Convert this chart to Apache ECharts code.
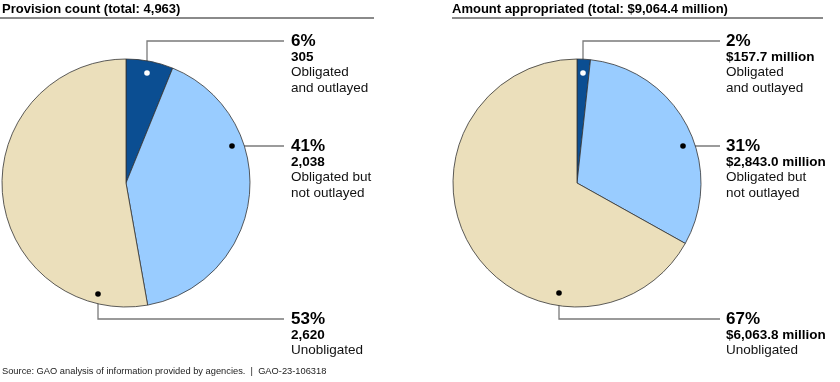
<!DOCTYPE html>
<html><head><meta charset="utf-8">
<script src="https://cdn.jsdelivr.net/npm/echarts@6/dist/echarts.min.js"></script>
<style>html,body{margin:0;padding:0;background:#fff}#c{width:840px;height:382px}</style>
</head><body><div id="c"></div>
<script>
// ---- data ----
const categories = ['Obligated and outlayed', 'Obligated but not outlayed', 'Unobligated'];
const categoryLines = [['Obligated', 'and outlayed'], ['Obligated but', 'not outlayed'], ['Unobligated']];
const countValues = [305, 2038, 2620];
const countPercents = ['6%', '41%', '53%'];
const countLabels = ['305', '2,038', '2,620'];
const amountValues = [157.7, 2843.0, 6063.8];
const amountPercents = ['2%', '31%', '67%'];
const amountLabels = ['$157.7 million', '$2,843.0 million', '$6,063.8 million'];
const titles = ['Provision count (total: 4,963)', 'Amount appropriated (total: $9,064.4 million)'];
const sourceNote = 'Source: GAO analysis of information provided by agencies.  |  GAO-23-106318';

// ---- styling / layout ----
const colors = ['#0b4e92', '#99ccff', '#ebdfbb'];
const dotColors = ['#ffffff', '#000000', '#000000'];
const FONT = 'Liberation Sans, Arial, sans-serif';
const R = 124;
const pies = [
  { cx: 126, cy: 183, labelX: 291, lineEnd: 284, anchors: [[21, -110], [106, -37], [-28, 111]],
    values: countValues, pcts: countPercents, vals: countLabels, titleX: 2, ruleX: [0, 374] },
  { cx: 577, cy: 183, labelX: 726, lineEnd: 720, anchors: [[6, -110], [106, -37], [-18, 110]],
    values: amountValues, pcts: amountPercents, vals: amountLabels, titleX: 452, ruleX: [452, 823] }
];
const lineYs = [41, null, 319]; // null => use anchor's own y
const FIRST_LH = 18;

const chart = echarts.init(document.getElementById('c'), null, { renderer: 'canvas' });

function anchorPt(p, i) { return [p.cx + p.anchors[i][0], p.cy + p.anchors[i][1]]; }
function lineY(p, i) { return lineYs[i] == null ? anchorPt(p, i)[1] : lineYs[i]; }

const series = pies.map((p, si) => ({
  type: 'pie',
  center: [p.cx, p.cy],
  radius: [0, R],
  startAngle: 90,
  clockwise: true,
  avoidLabelOverlap: false,
  silent: true,
  animation: false,
  emphasis: { disabled: true },
  itemStyle: { borderColor: '#333333', borderWidth: 0.8 },
  data: p.values.map((v, i) => ({ name: categories[i], value: v, itemStyle: { color: colors[i] } })),
  label: {
    show: true,
    position: 'outside',
    fontFamily: FONT,
    formatter: (d) => {
      const i = d.dataIndex;
      const lines = ['{p|' + p.pcts[i] + '}', '{v|' + p.vals[i] + '}'];
      categoryLines[i].forEach(t => lines.push('{t|' + t + '}'));
      return lines.join('\n');
    },
    rich: {
      p: { fontSize: 17, fontWeight: 'bold', lineHeight: FIRST_LH, color: '#000', fontFamily: FONT },
      v: { fontSize: 13.5, fontWeight: 'bold', lineHeight: 15, color: '#000', fontFamily: FONT },
      t: { fontSize: 13.5, lineHeight: 15.5, color: '#111', fontFamily: FONT }
    }
  },
  labelLine: { show: true, smooth: false, lineStyle: { color: '#7a7a7a', width: 1.3 } },
  labelLayout: (params) => {
    const i = params.dataIndex;
    const a = anchorPt(p, i);
    const ly = lineY(p, i);
    return {
      x: p.labelX,
      y: ly - FIRST_LH / 2,
      align: 'left',
      verticalAlign: 'top',
      labelLinePoints: [a, [a[0], ly], [p.lineEnd, ly]]
    };
  }
}));

const graphics = [];
pies.forEach((p, si) => {
  graphics.push({
    type: 'text', left: p.titleX, top: 3, z: 10,
    style: { text: titles[si], font: 'bold 13px ' + FONT, fill: '#000' }
  });
  graphics.push({
    type: 'line', z: 10,
    shape: { x1: p.ruleX[0], y1: 18, x2: p.ruleX[1], y2: 18 },
    style: { stroke: '#8a8a8a', lineWidth: 2 }
  });
  p.anchors.forEach((_, i) => {
    const a = anchorPt(p, i);
    graphics.push({
      type: 'circle', z: 100, silent: true,
      shape: { cx: a[0], cy: a[1], r: 2.8 },
      style: { fill: dotColors[i] }
    });
  });
});
graphics.push({
  type: 'text', left: 2, top: 367, z: 10,
  style: { text: sourceNote, font: '9.3px ' + FONT, fill: '#222' }
});

chart.setOption({
  animation: false,
  backgroundColor: '#ffffff',
  series: series,
  graphic: graphics
});
</script>
</body></html>
